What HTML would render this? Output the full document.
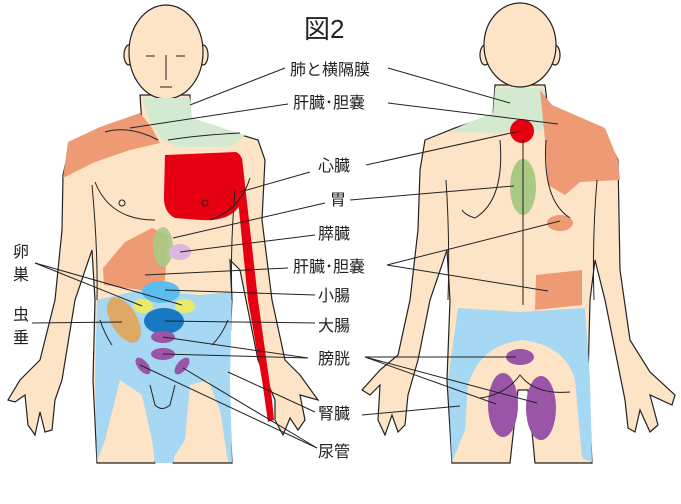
<!DOCTYPE html>
<html><head><meta charset="utf-8"><style>
html,body{margin:0;padding:0;background:#fff;width:681px;height:504px;overflow:hidden}
svg text{font-family:"Liberation Sans","Noto Sans CJK JP",sans-serif;fill:#222}
</style></head><body>
<svg width="681" height="504" viewBox="0 0 681 504" xmlns="http://www.w3.org/2000/svg">
<g stroke="#222" stroke-width="1.2" fill="#fde4c6">
<!-- FRONT body -->
<path d="M140,95 L142,125 L105,133 L70,145 L63,175 L62,230 L55,300 L40,360 L20,380 L8,400 L15,402 L25,395 L28,425 L35,435 L40,412 L45,432 L52,430 L55,400 L62,380 L75,300 L92,250 L95,300 L93,380 L97,463 L155,463 L160,390 L168,390 L173,463 L232,463 L228,380 L232,300 L230,260 L240,270 L258,360 L275,400 L275,420 L283,435 L290,418 L298,430 L305,420 L300,395 L318,400 L300,375 L285,360 L272,300 L262,220 L265,160 L258,140 L225,130 L190,122 L190,95 Z"/>
<ellipse cx="129" cy="55" rx="5" ry="10"/><ellipse cx="203" cy="55" rx="5" ry="10"/>
<ellipse cx="166" cy="52" rx="37" ry="47"/>
<!-- BACK body -->
<path d="M495,85 L493,115 L455,128 L425,140 L420,170 L418,230 L410,300 L398,355 L380,370 L362,390 L370,395 L380,385 L378,420 L385,435 L392,415 L398,432 L405,425 L408,395 L418,360 L430,300 L447,250 L450,300 L447,380 L452,463 L510,463 L518,390 L528,390 L535,463 L592,463 L588,380 L590,300 L595,260 L605,300 L618,365 L625,400 L628,428 L635,432 L640,410 L650,432 L658,425 L650,395 L672,405 L675,395 L650,372 L630,340 L620,270 L618,160 L605,135 L560,118 L548,110 L545,85 Z"/>
<ellipse cx="485" cy="55" rx="5" ry="10"/><ellipse cx="555" cy="55" rx="5" ry="10"/>
<ellipse cx="520" cy="45" rx="36" ry="42"/>
</g>
<!-- front colored regions -->
<path d="M63,178 L68,142 L100,127 L140,113 L152,128 L160,143 L130,150 L95,162 Z" fill="#ee9a74"/>
<path d="M142,98 L190,98 L192,118 L245,135 L230,147 L178,147 L162,140 L150,122 Z" fill="#d3ead0"/>
<path d="M165,155 L236,152 Q243,155 242,165 L240,205 Q230,222 200,220 L175,218 Q163,212 164,195 Z" fill="#e60012"/>
<path d="M234,160 L242,158 L258,300 L272,400 L274,420 L268,422 L262,380 L248,300 Z" fill="#e60012"/>
<path d="M103,268 L125,242 L152,228 L168,235 L165,280 L155,292 L104,285 Z" fill="#ee9a74"/>
<path d="M97,300 L140,290 L200,295 L232,292 L230,380 L232,462 L228,462 L220,410 L208,380 L190,385 L185,440 L175,455 L173,463 L155,463 L152,440 L142,395 L120,380 L105,440 L97,462 L95,380 Z" fill="#a6d8f4"/>
<ellipse cx="163" cy="247" rx="10" ry="20" fill="#a9c985" opacity="0.9"/>
<ellipse cx="180" cy="252" rx="11" ry="8" fill="#dcb6dc"/>
<ellipse cx="161" cy="292" rx="19" ry="11" fill="#5bbcee"/>
<ellipse cx="143" cy="306" rx="10" ry="7" fill="#eaea6a"/>
<ellipse cx="185" cy="306" rx="10" ry="7" fill="#eaea6a"/>
<ellipse cx="124" cy="320" rx="13" ry="25" transform="rotate(-30 124 320)" fill="#dea865"/>
<ellipse cx="164" cy="321" rx="20" ry="13" fill="#1a78c2"/>
<ellipse cx="163" cy="337" rx="12" ry="6" fill="#9a55a8"/>
<ellipse cx="163" cy="354" rx="12" ry="6" fill="#9a55a8"/>
<ellipse cx="143" cy="366" rx="5" ry="10" transform="rotate(-40 143 366)" fill="#9a55a8"/>
<ellipse cx="182" cy="366" rx="5" ry="10" transform="rotate(40 182 366)" fill="#9a55a8"/>
<!-- back colored regions -->
<path d="M495,88 L545,88 L545,130 L500,133 L448,132 L470,122 L493,113 Z" fill="#d3ead0"/>
<path d="M540,90 L552,105 L605,128 L618,160 L620,180 L580,182 L565,195 L548,185 L545,140 Z" fill="#ee9a74"/>
<circle cx="522" cy="131" r="12" fill="#e60012"/>
<ellipse cx="523" cy="187" rx="13" ry="28" fill="#a9c985"/>
<ellipse cx="560" cy="223" rx="13" ry="8" fill="#ee9a74"/>
<path d="M536,275 L582,270 L582,305 L535,310 Z" fill="#ee9a74"/>
<path d="M458,308 L520,312 L585,308 L590,380 L592,462 L582,458 L575,380 Q565,345 522,340 Q480,345 468,385 L465,430 L452,462 L448,380 Z" fill="#a6d8f4"/>
<ellipse cx="520" cy="357" rx="14" ry="8" fill="#9a55a8"/>
<ellipse cx="503" cy="405" rx="15" ry="32" fill="#9a55a8"/>
<ellipse cx="541" cy="408" rx="15" ry="32" fill="#9a55a8"/>
<!-- detail lines -->
<g stroke="#222" stroke-width="1" fill="none">
<line x1="523" y1="140" x2="523" y2="305"/>
<path d="M500,140 Q505,200 475,218 Q465,215 462,210"/>
<path d="M546,140 Q542,200 570,218"/>
<path d="M480,398 Q505,395 520,375 Q535,395 570,392"/>
<path d="M446,180 Q450,240 448,300"/><path d="M597,180 Q592,240 594,300"/>
<path d="M105,132 Q130,125 158,140"/>
<path d="M168,140 Q200,135 240,133"/>
<path d="M95,182 Q110,220 155,220"/>
<path d="M250,178 Q240,210 210,220"/>
<path d="M92,185 Q98,250 97,300"/><path d="M235,190 Q230,250 232,300"/>
<path d="M100,320 Q105,335 112,345"/><path d="M228,320 Q222,335 212,345"/>
<circle cx="122" cy="203" r="3"/><circle cx="205" cy="203" r="3"/>
<path d="M150,385 L155,405 Q162,412 170,405 L175,385"/>
<path d="M146,56 L155,56 M176,56 L185,56"/>
<line x1="166" y1="55" x2="166" y2="80"/>
<line x1="160" y1="87" x2="172" y2="87"/>
</g>
<!-- leader lines -->
<g stroke="#222" stroke-width="1" fill="none">
<line x1="285" y1="68" x2="190" y2="105"/><line x1="388" y1="68" x2="510" y2="103"/>
<line x1="288" y1="104" x2="130" y2="128"/><line x1="388" y1="103" x2="558" y2="124"/>
<line x1="310" y1="172" x2="240" y2="192"/><line x1="366" y1="165" x2="520" y2="131"/>
<line x1="325" y1="203" x2="173" y2="238"/><line x1="350" y1="200" x2="514" y2="186"/>
<line x1="315" y1="235" x2="180" y2="252"/>
<line x1="288" y1="268" x2="145" y2="275"/><line x1="387" y1="265" x2="560" y2="221"/><line x1="387" y1="265" x2="548" y2="291"/>
<line x1="315" y1="295" x2="165" y2="290"/>
<line x1="315" y1="323" x2="165" y2="321"/>
<line x1="308" y1="358" x2="163" y2="337"/><line x1="308" y1="358" x2="163" y2="354"/>
<line x1="365" y1="357" x2="516" y2="357"/><line x1="365" y1="357" x2="496" y2="404"/><line x1="365" y1="357" x2="537" y2="403"/>
<line x1="315" y1="412" x2="228" y2="372"/><line x1="362" y1="415" x2="460" y2="406"/>
<line x1="317" y1="448" x2="140" y2="365"/><line x1="317" y1="448" x2="183" y2="368"/>
<line x1="35" y1="263" x2="142" y2="306"/><line x1="35" y1="263" x2="182" y2="305"/>
<line x1="32" y1="323" x2="122" y2="322"/>
</g>
<!-- labels -->
<text x="304" y="38" font-size="26">図2</text>
<g font-size="16">
<text x="290" y="75">肺と横隔膜</text>
<text x="293" y="108">肝臓･胆嚢</text>
<text x="318" y="171">心臓</text>
<text x="330" y="205">胃</text>
<text x="318" y="239">膵臓</text>
<text x="293" y="272">肝臓･胆嚢</text>
<text x="318" y="301">小腸</text>
<text x="318" y="331">大腸</text>
<text x="318" y="364">膀胱</text>
<text x="318" y="419">腎臓</text>
<text x="318" y="457">尿管</text>
<text x="13" y="257">卵</text>
<text x="13" y="280">巣</text>
<text x="13" y="320">虫</text>
<text x="13" y="343">垂</text>
</g>
</svg>
</body></html>
